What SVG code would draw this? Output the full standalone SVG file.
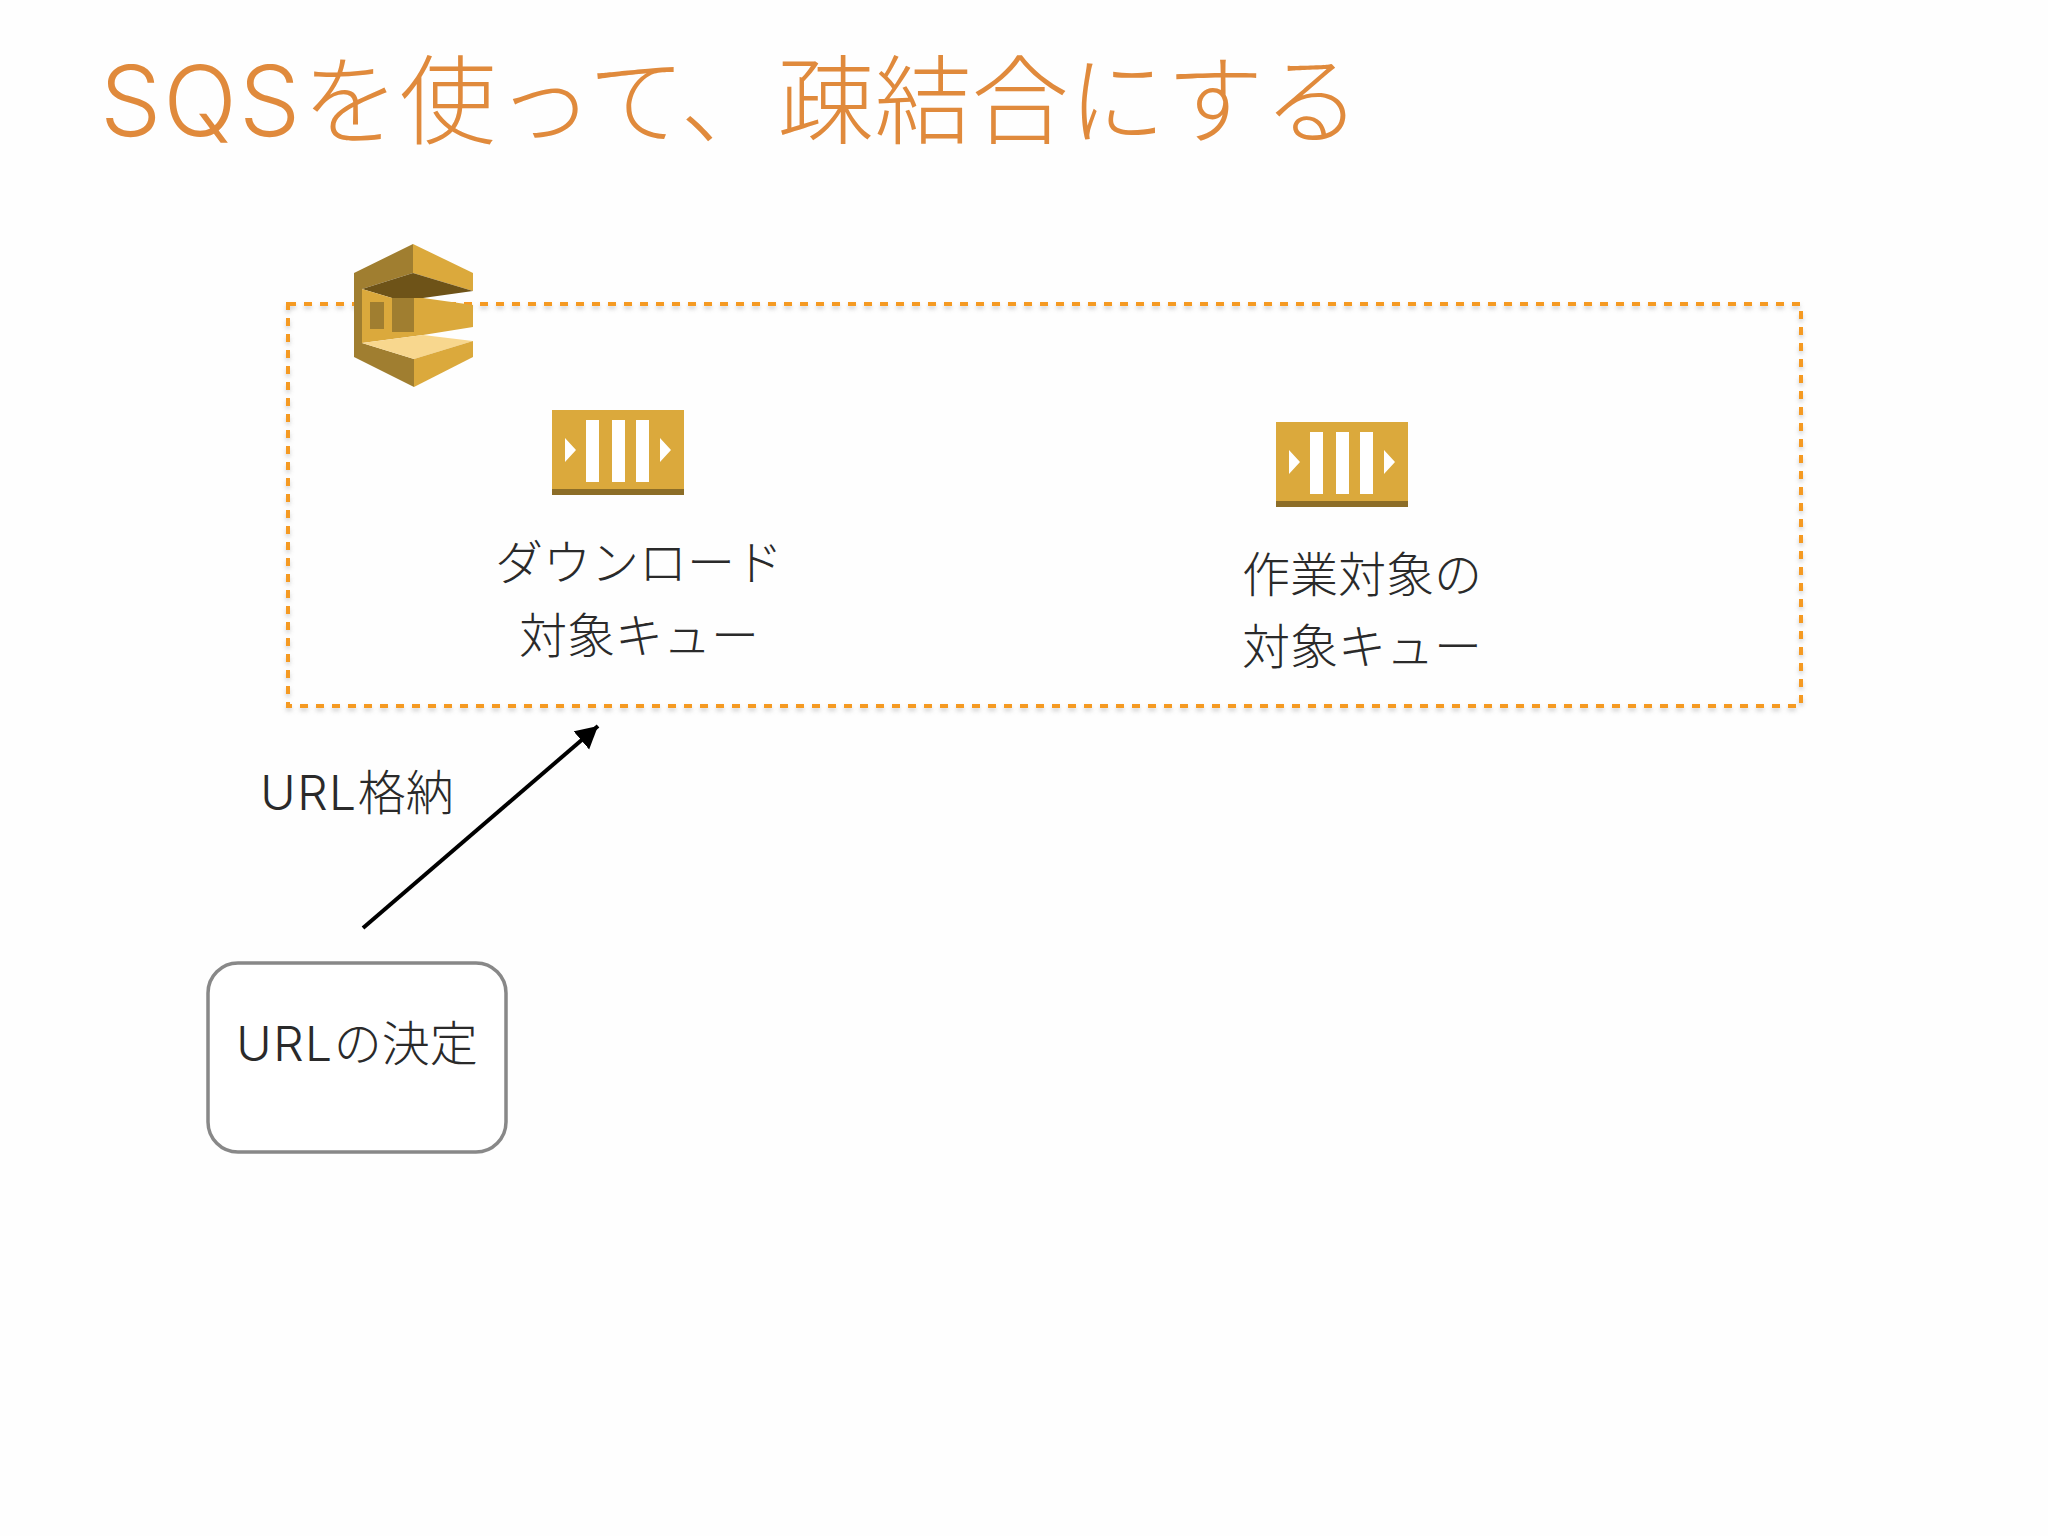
<svg xmlns="http://www.w3.org/2000/svg" width="2048" height="1536" viewBox="0 0 2048 1536">
<defs>
<marker id="ah" markerUnits="userSpaceOnUse" markerWidth="26" markerHeight="26" refX="22" refY="12" orient="auto"><path d="M0 0L22 12L0 24Z" fill="#000"/></marker>
<g id="queue">
<rect width="132" height="85" fill="#dba93c"/>
<rect y="79" width="132" height="6" fill="#8c6d27"/>
<rect x="34" y="10" width="13" height="62" fill="#fff"/>
<rect x="60" y="10" width="13" height="62" fill="#fff"/>
<rect x="84" y="10" width="13" height="62" fill="#fff"/>
<path d="M13 28L24 40L13 52Z M108 28L119 40L108 52Z" fill="#fff"/>
</g>
<filter id="soft" x="-2%" y="-2%" width="104%" height="106%"><feDropShadow dx="0" dy="3" stdDeviation="2" flood-color="#999" flood-opacity=".45"/></filter>
</defs>
<style>
text{font-family:"Noto Sans CJK JP","Noto Sans",sans-serif;fill:#2a2a2a;font-weight:300}
.l{font-size:48px;text-anchor:middle}
.lat{font-family:"Inter","Noto Sans",sans-serif;font-weight:300}
.u{letter-spacing:1.5px}
</style>
<rect width="2048" height="1536" fill="#fefefe"/>
<text id="title" x="100" y="136" style="font-size:97px;fill:#e08a3c"><tspan class="lat" style="letter-spacing:2px">SQS</tspan>を使って、疎結合にする</text>
<g id="group"><rect x="288" y="304" width="1513" height="402" fill="none" stroke="#f59a23" stroke-width="4" stroke-dasharray="8 8" filter="url(#soft)"/></g>
<g id="sqs">
<path d="M354 273L413 244V273L362 289V343L414 359V387L354 357Z" fill="#a07e30"/>
<path d="M413 244L473 273V291L413 273Z" fill="#dba93c"/>
<path d="M362 289L413 273L473 291L423 298L392 298Z" fill="#6e5318"/>
<path d="M362 289L392 298L423 298L473 305V327L423 335L362 343Z" fill="#dba93c"/>
<path d="M370 302H384V329H370Z M392 298H414V332H392Z" fill="#a07e30"/>
<path d="M362 343L423 335L473 341L414 359Z" fill="#f8d78e"/>
<path d="M414 359L473 341V357L414 387Z" fill="#dba93c"/>
</g>
<g id="queue1"><use href="#queue" x="552" y="410"/><text class="l" x="639" y="580">ダウンロード</text><text class="l" x="639" y="653">対象キュー</text></g>
<g id="queue2"><use href="#queue" x="1276" y="422"/><text class="l" x="1362" y="592">作業対象の</text><text class="l" x="1362" y="664">対象キュー</text></g>
<g id="connectors"><line x1="363" y1="928" x2="598" y2="726" stroke="#000" stroke-width="4" marker-end="url(#ah)"/></g>
<text id="edge-label" class="l" x="357" y="810"><tspan class="lat u">URL</tspan>格納</text>
<g id="url-box"><rect x="208" y="963" width="298" height="189" rx="30" fill="#fff" stroke="#888" stroke-width="3.5"/><text class="l" x="357" y="1061"><tspan class="lat u">URL</tspan>の決定</text></g>
</svg>
